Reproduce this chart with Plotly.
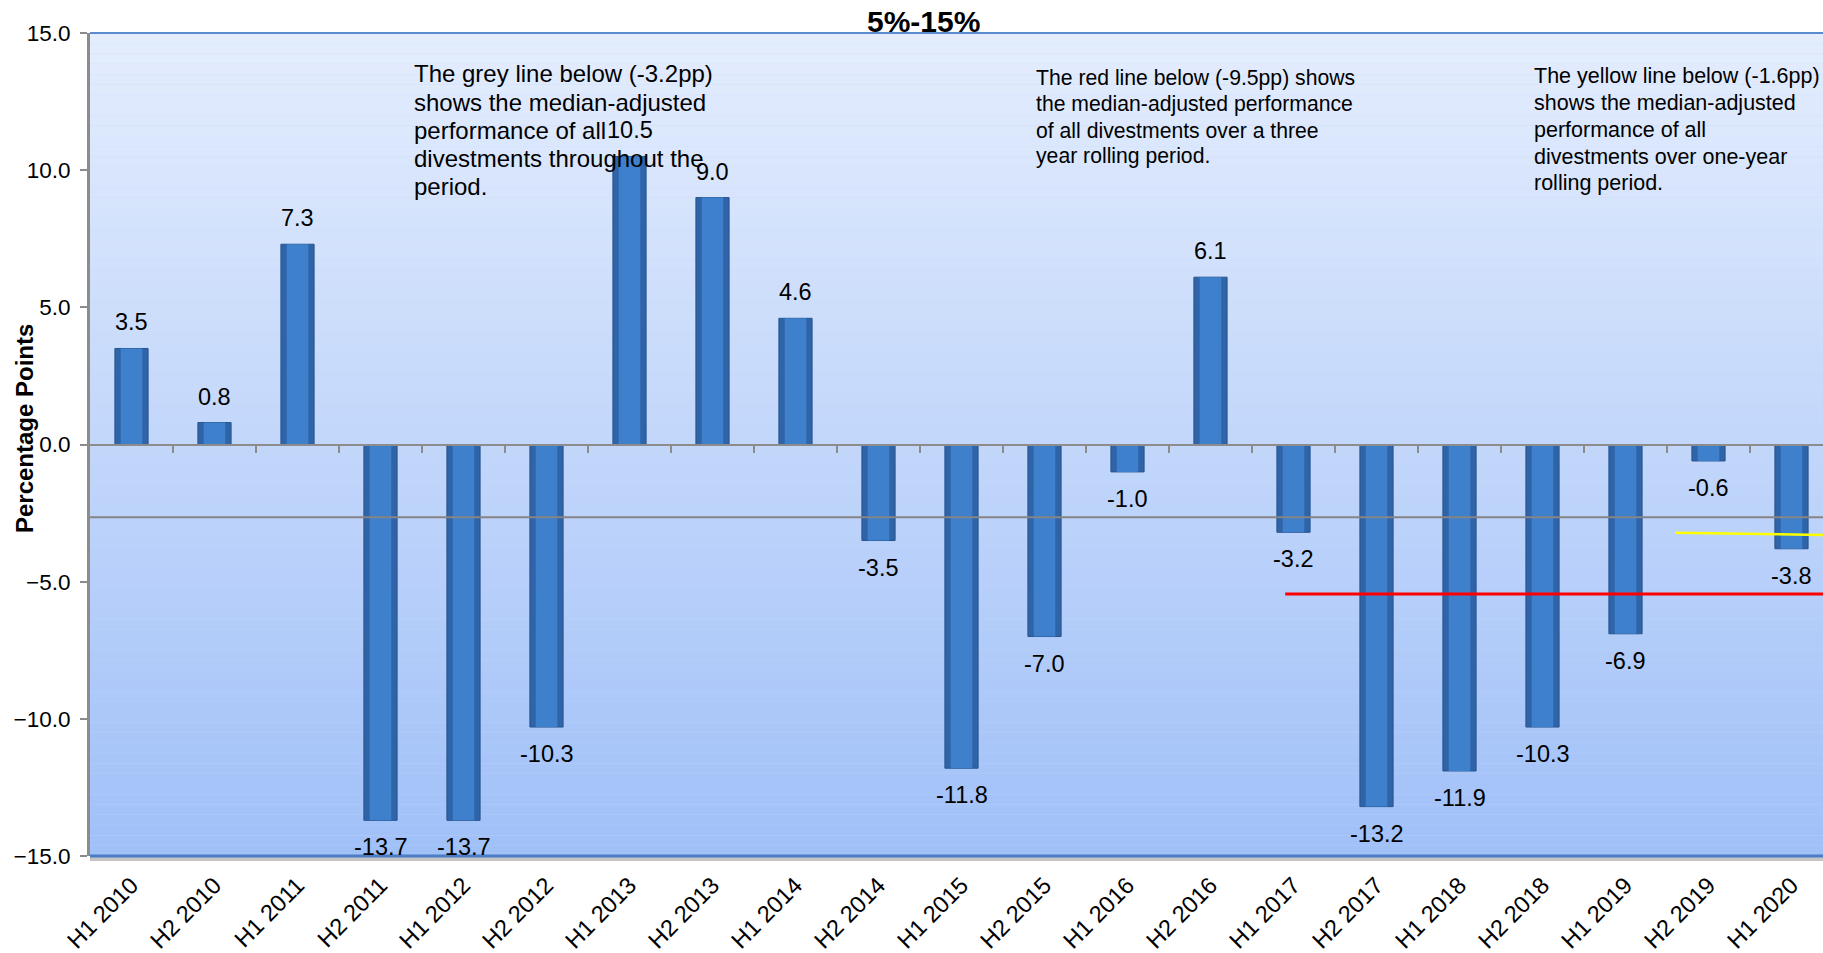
import plotly.graph_objects as go

# ---------------- data ----------------
categories = ["H1 2010", "H2 2010", "H1 2011", "H2 2011", "H1 2012", "H2 2012",
              "H1 2013", "H2 2013", "H1 2014", "H2 2014", "H1 2015", "H2 2015",
              "H1 2016", "H2 2016", "H1 2017", "H2 2017", "H1 2018", "H2 2018",
              "H1 2019", "H2 2019", "H1 2020"]
values = [3.5, 0.8, 7.3, -13.7, -13.7, -10.3, 10.5, 9.0, 4.6, -3.5, -11.8, -7.0,
          -1.0, 6.1, -3.2, -13.2, -11.9, -10.3, -6.9, -0.6, -3.8]

grey_x = [-0.5, 20.5]
grey_y = [-2.65, -2.65]
red_x = [13.9, 20.5]
red_y = [-5.45, -5.45]
yellow_x = [18.6, 20.5]
yellow_y = [-3.22, -3.30]

y_ticks = [-15, -10, -5, 0, 5, 10, 15]

grey_note = ["The grey line below (-3.2pp)", "shows the median-adjusted",
             "performance of all", "divestments throughout the", "period."]
red_note = ["The red line below (-9.5pp) shows", "the median-adjusted performance",
            "of all divestments over a three", "year rolling period."]
yellow_note = ["The yellow line below (-1.6pp)", "shows the median-adjusted",
               "performance of all", "divestments over one-year", "rolling period."]
subtitle = "5%-15%"
y_title = "Percentage Points"

# ---------------- layout geometry ----------------
W, H = 1823, 953
L, T, B = 90, 33, 858
PW, PH = W - L, B - T
CAT_W = 83.0
x_range = [-0.5, -0.5 + PW / CAT_W]

def px_x(x):
    return (x - L) / PW

def px_y(y):
    return (B - y) / PH

FONT = "Arial, Liberation Sans, sans-serif"

fig = go.Figure()

# bars (outer darker body + inner lighter highlight for a bevelled look)
xs = list(range(len(categories)))
fig.add_trace(go.Bar(
    x=xs, y=values, width=0.4,
    marker=dict(color="#2f64a8", line=dict(color="#27558f", width=1)),
    showlegend=False, hoverinfo="skip"))
fig.add_trace(go.Bar(
    x=xs, y=values, width=0.26,
    marker=dict(color="#3f80cd", line=dict(width=0)),
    showlegend=False, hoverinfo="skip"))

# reference lines
fig.add_trace(go.Scatter(x=grey_x, y=grey_y, mode="lines",
                         line=dict(color="#858585", width=2), showlegend=False))
fig.add_trace(go.Scatter(x=red_x, y=red_y, mode="lines",
                         line=dict(color="#ff0000", width=3), showlegend=False))
fig.add_trace(go.Scatter(x=yellow_x, y=yellow_y, mode="lines",
                         line=dict(color="#ffff00", width=2.5), showlegend=False))

# invisible trace on zero axis
fig.add_trace(go.Scatter(x=[0], y=[0], xaxis="x2", mode="markers",
                         marker=dict(opacity=0), showlegend=False, hoverinfo="skip"))

annotations = []
# value labels
for xi, v in zip(xs, values):
    annotations.append(dict(
        x=xi, y=v, xref="x", yref="y", text=f"{v:.1f}", showarrow=False,
        yanchor="middle", xanchor="center", yshift=(26 if v >= 0 else -27),
        font=dict(family=FONT, size=23.5, color="#000000")))

def add_note(lines, x_px, base0, spacing, size):
    for i, t in enumerate(lines):
        baseline = base0 + i * spacing
        annotations.append(dict(
            x=px_x(x_px), y=px_y(baseline + 0.212 * size + 1), xref="paper", yref="paper",
            text=t, showarrow=False, xanchor="left", yanchor="bottom",
            font=dict(family=FONT, size=size, color="#000000")))

add_note(grey_note, 412, 83.3, 28.35, 24)
add_note(red_note, 1034, 86.7, 26.0, 21.2)
add_note(yellow_note, 1532, 85.0, 26.8, 21.5)

annotations.append(dict(
    x=px_x(923), y=px_y(32.5 + 0.212 * 30 + 1), xref="paper", yref="paper",
    text=f"<b>{subtitle}</b>", showarrow=False, xanchor="center", yanchor="bottom",
    font=dict(family=FONT, size=30, color="#000000")))

annotations.append(dict(
    x=px_x(24), y=px_y(430), xref="paper", yref="paper",
    text=f"<b>{y_title}</b>", showarrow=False, textangle=-90,
    xanchor="center", yanchor="middle",
    font=dict(family=FONT, size=24, color="#000000")))

# background gradient bands
shapes = []
N = 80
top_c = (228, 237, 253)
bot_c = (160, 192, 248)
for i in range(N):
    f = (i + 0.5) / N
    c = tuple(round(top_c[k] + (bot_c[k] - top_c[k]) * f) for k in range(3))
    shapes.append(dict(type="rect", xref="paper", yref="paper",
                       x0=0, x1=1, y0=1 - (i + 1) / N, y1=1 - i / N,
                       fillcolor=f"rgb{c}", line=dict(width=0), layer="below"))
# frame lines
shapes.append(dict(type="line", xref="paper", yref="paper", x0=0, x1=1, y0=1, y1=1,
                   line=dict(color="#5c8ad0", width=2)))
shapes.append(dict(type="line", xref="paper", yref="paper", x0=0, x1=1,
                   y0=px_y(861), y1=px_y(861), line=dict(color="#c4c4c4", width=4)))
shapes.append(dict(type="line", xref="paper", yref="paper", x0=0, x1=1,
                   y0=px_y(858), y1=px_y(858), line=dict(color="#4a7dc6", width=3)))

fig.update_layout(
    width=W, height=H,
    margin=dict(l=L, r=0, t=T, b=H - B),
    paper_bgcolor="#ffffff", plot_bgcolor="#c4d7fa",
    font=dict(family=FONT, color="#000000"),
    barmode="overlay",
    xaxis=dict(range=x_range, tickmode="array", tickvals=xs, ticktext=categories,
               tickangle=-45, ticks="", showgrid=False, zeroline=False, showline=False,
               ticklabelstandoff=10,
               tickfont=dict(family=FONT, size=23.5, color="#000000")),
    xaxis2=dict(range=x_range, overlaying="x", anchor="free", position=0.5, side="bottom",
                tickmode="array", tickvals=[i + 0.5 for i in range(21)],
                ticks="outside", ticklen=7, tickwidth=2, tickcolor="#8c8c8c",
                showticklabels=False, showline=True, linecolor="#8c8c8c", linewidth=2,
                showgrid=False, zeroline=False),
    yaxis=dict(range=[-15, 15], tickmode="array", tickvals=y_ticks, tickformat=".1f",
               ticks="outside", ticklen=7, tickwidth=2, tickcolor="#8c8c8c",
               showline=True, linecolor="#8c8c8c", linewidth=3,
               showgrid=False, zeroline=False, ticklabelstandoff=5,
               tickfont=dict(family=FONT, size=22.5, color="#000000")),
    annotations=annotations,
    shapes=shapes,
)

fig.write_html("out.html")
